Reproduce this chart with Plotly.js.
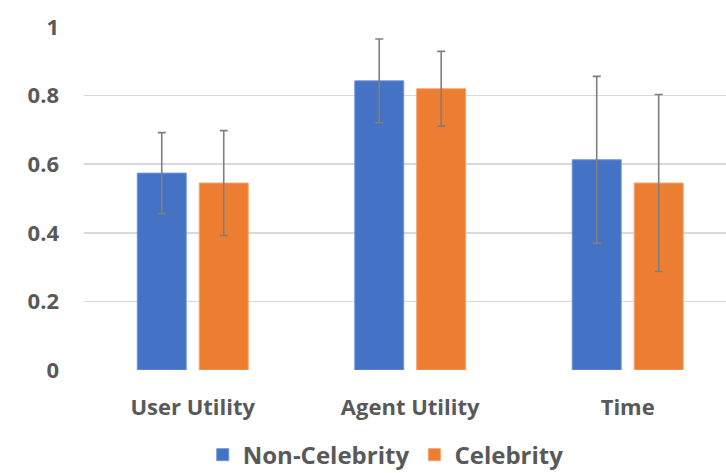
<!DOCTYPE html>
<html>
<head>
<meta charset="utf-8">
<script src="https://cdn.plot.ly/plotly-3.0.1.min.js"></script>
<style>html,body{margin:0;padding:0;background:#fff;}#chart{width:726px;height:473px;}</style>
</head>
<body>
<div id="chart"></div>
<script>
const categories = ["User Utility", "Agent Utility", "Time"];
const nonCelebrity = [0.574, 0.843, 0.613];
const nonCelebrityErr = [0.118, 0.122, 0.243];
const celebrity = [0.545, 0.820, 0.545];
const celebrityErr = [0.153, 0.109, 0.258];
const yTicks = [0, 0.2, 0.4, 0.6, 0.8, 1];
const yTickLabels = ["0", "0.2", "0.4", "0.6", "0.8", "1"];

const errStyle = {type: "data", visible: true, color: "#7f7f7f", thickness: 1.6, width: 4};
const traces = [
  {type: "bar", name: "Non-Celebrity", x: categories, y: nonCelebrity,
   error_y: Object.assign({array: nonCelebrityErr}, errStyle),
   marker: {color: "#4472C4", line: {color: "#6f95dc", width: 1}}},
  {type: "bar", name: "Celebrity", x: categories, y: celebrity,
   error_y: Object.assign({array: celebrityErr}, errStyle),
   marker: {color: "#ED7D31", line: {color: "#f5a26a", width: 1}}}
];
const tickFont = {family: "Open Sans, sans-serif", size: 22, color: "#595959", weight: 700};
const layout = {
  width: 726, height: 473,
  margin: {l: 84, r: 0, t: 27, b: 103, autoexpand: false},
  paper_bgcolor: "#fff", plot_bgcolor: "#fff",
  barmode: "group", bargap: 0.43, bargroupgap: 0.21,
  showlegend: true,
  legend: {orientation: "h", x: 0.47, xanchor: "center", y: -0.248, yanchor: "middle",
           font: {family: "Open Sans, sans-serif", size: 24, color: "#595959", weight: 700},
           itemwidth: 20, traceorder: "normal"},
  xaxis: {type: "category", range: [-0.5, 2.452], showgrid: false, zeroline: false,
          showline: false, ticks: "", tickfont: tickFont, ticklabelstandoff: 22},
  yaxis: {range: [0, 1], tickvals: yTicks, ticktext: yTickLabels, showgrid: true,
          gridcolor: "#d9d9d9", gridwidth: 1.5, zeroline: false, showline: false,
          ticks: "", tickfont: tickFont, ticklabelstandoff: 24}
};
Plotly.newPlot("chart", traces, layout, {displayModeBar: false, staticPlot: true});
</script>
</body>
</html>
